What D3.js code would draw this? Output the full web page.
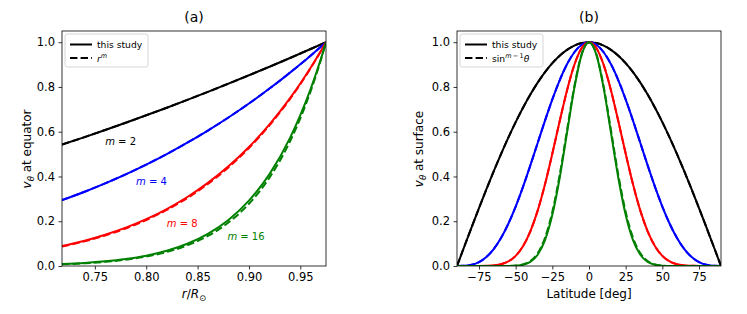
<!DOCTYPE html>
<html>
<head>
<meta charset="utf-8">
<script src="https://cdn.jsdelivr.net/npm/d3@7"></script>
<style>
  body { margin: 0; background: #fff; }
  svg { font-family: "DejaVu Sans", sans-serif; }
</style>
</head>
<body>
<svg width="747" height="314"></svg>
<script>
// panel (a): velocity at the equator vs radius
const radius = [0.718, 0.74, 0.76, 0.78, 0.80, 0.82, 0.84, 0.86, 0.88, 0.90, 0.92, 0.94, 0.95, 0.96, 0.97, 0.975];
const eqStudy2  = [0.5423, 0.5760, 0.6076, 0.6400, 0.6733, 0.7073, 0.7423, 0.7780, 0.8146, 0.8521, 0.8904, 0.9295, 0.9494, 0.9695, 0.9898, 1];
const eqStudy4  = [0.2941, 0.3318, 0.3692, 0.4096, 0.4533, 0.5003, 0.5510, 0.6053, 0.6636, 0.7261, 0.7928, 0.8640, 0.9013, 0.9399, 0.9796, 1];
const eqStudy8  = [0.0890, 0.1128, 0.1395, 0.1712, 0.2092, 0.2545, 0.3082, 0.3712, 0.4452, 0.5318, 0.6328, 0.7502, 0.8155, 0.8855, 0.9605, 1];
const eqStudy16 = [0.0085, 0.0135, 0.0207, 0.0311, 0.0462, 0.0681, 0.0994, 0.1437, 0.2058, 0.2920, 0.4105, 0.5727, 0.6740, 0.7907, 0.9250, 1];
const eqPower2  = [0.5423, 0.5760, 0.6076, 0.6400, 0.6733, 0.7073, 0.7423, 0.7780, 0.8146, 0.8521, 0.8904, 0.9295, 0.9494, 0.9695, 0.9898, 1];
const eqPower4  = [0.2941, 0.3318, 0.3692, 0.4096, 0.4533, 0.5003, 0.5510, 0.6053, 0.6636, 0.7261, 0.7928, 0.8640, 0.9013, 0.9399, 0.9796, 1];
const eqPower8  = [0.0865, 0.1101, 0.1363, 0.1678, 0.2055, 0.2503, 0.3036, 0.3664, 0.4404, 0.5272, 0.6285, 0.7465, 0.8124, 0.8834, 0.9597, 1];
const eqPower16 = [0.0075, 0.0121, 0.0186, 0.0282, 0.0422, 0.0627, 0.0922, 0.1343, 0.1940, 0.2780, 0.3950, 0.5573, 0.6600, 0.7804, 0.9210, 1];

// panel (b): velocity at the surface vs latitude
const latitude = [-90, -85, -80, -75, -70, -65, -60, -55, -50, -45, -40, -35, -30, -25, -20, -15, -10, -5, 0,
                  5, 10, 15, 20, 25, 30, 35, 40, 45, 50, 55, 60, 65, 70, 75, 80, 85, 90];
const surfStudy2  = [0, 0.0872, 0.1736, 0.2588, 0.3420, 0.4226, 0.5000, 0.5736, 0.6428, 0.7071, 0.7660, 0.8192, 0.8660, 0.9063, 0.9397, 0.9659, 0.9848, 0.9962, 1,
                     0.9962, 0.9848, 0.9659, 0.9397, 0.9063, 0.8660, 0.8192, 0.7660, 0.7071, 0.6428, 0.5736, 0.5000, 0.4226, 0.3420, 0.2588, 0.1736, 0.0872, 0];
const surfStudy4  = [0, 0.0007, 0.0052, 0.0173, 0.0400, 0.0755, 0.1250, 0.1887, 0.2656, 0.3536, 0.4495, 0.5497, 0.6495, 0.7444, 0.8298, 0.9012, 0.9551, 0.9886, 1,
                     0.9886, 0.9551, 0.9012, 0.8298, 0.7444, 0.6495, 0.5497, 0.4495, 0.3536, 0.2656, 0.1887, 0.1250, 0.0755, 0.0400, 0.0173, 0.0052, 0.0007, 0];
const surfStudy8  = [0, 0, 0, 0.0001, 0.0006, 0.0024, 0.0078, 0.0204, 0.0453, 0.0884, 0.1548, 0.2475, 0.3654, 0.5023, 0.6470, 0.7845, 0.8984, 0.9737, 1,
                     0.9737, 0.8984, 0.7845, 0.6470, 0.5023, 0.3654, 0.2475, 0.1548, 0.0884, 0.0453, 0.0204, 0.0078, 0.0024, 0.0006, 0.0001, 0, 0, 0];
const surfStudy16 = [0, 0, 0, 0, 0, 0, 0, 0.0002, 0.0013, 0.0055, 0.0184, 0.0502, 0.1156, 0.2286, 0.3933, 0.5945, 0.7948, 0.9444, 1,
                     0.9444, 0.7948, 0.5945, 0.3933, 0.2286, 0.1156, 0.0502, 0.0184, 0.0055, 0.0013, 0.0002, 0, 0, 0, 0, 0, 0, 0];
const surfSine2  = surfStudy2.slice();
const surfSine4  = surfStudy4.slice();
const surfSine8  = surfStudy8.slice();
const surfSine16 = [0, 0, 0, 0, 0, 0, 0.0001, 0.0004, 0.0020, 0.0072, 0.0220, 0.0570, 0.1260, 0.2420, 0.4070, 0.6060, 0.8020, 0.9470, 1,
                    0.9470, 0.8020, 0.6060, 0.4070, 0.2420, 0.1260, 0.0570, 0.0220, 0.0072, 0.0020, 0.0004, 0.0001, 0, 0, 0, 0, 0, 0];

const mValues = [2, 4, 8, 16];
const colors = ["#000000", "#0000ff", "#ff0000", "#008000"];
const rTicks = [0.75, 0.80, 0.85, 0.90, 0.95];
const latTicks = [-75, -50, -25, 0, 25, 50, 75];
const vTicks = [0, 0.2, 0.4, 0.6, 0.8, 1.0];

// label anchors for panel (a), in data units
const mLabelPos = [[0.760, 0.555], [0.790, 0.377], [0.820, 0.188], [0.879, 0.130]];

const svg = d3.select("svg");
const plotTop = 31, plotBottom = 266;

const y = d3.scaleLinear().domain([0, 1.05]).range([plotBottom, plotTop]);
const xa = d3.scaleLinear().domain([0.718, 0.975]).range([62, 326]);
const xb = d3.scaleLinear().domain([-90, 90]).range([457, 721]);

function drawAxes(x, xTickVals, xFmt) {
  const g = svg.append("g");
  g.append("g")
    .attr("transform", `translate(0,${plotBottom})`)
    .call(d3.axisBottom(x).tickValues(xTickVals).tickFormat(xFmt).tickSize(3.5).tickPadding(3.5))
    .call(s => s.select(".domain").remove());
  g.append("g")
    .attr("transform", `translate(${x.range()[0]},0)`)
    .call(d3.axisLeft(y).tickValues(vTicks).tickFormat(d3.format(".1f")).tickSize(3.5).tickPadding(3.5))
    .call(s => s.select(".domain").remove());
  g.selectAll(".tick text").attr("font-size", 11.5).attr("font-family", "DejaVu Sans").attr("fill", "#000");
  g.selectAll(".tick line").attr("stroke", "#000").attr("stroke-width", 0.8);
  return g;
}

function drawLines(x, xs, solids, dashes, clipId) {
  svg.append("clipPath").attr("id", clipId)
    .append("rect")
    .attr("x", x.range()[0]).attr("y", plotTop)
    .attr("width", x.range()[1] - x.range()[0]).attr("height", plotBottom - plotTop);
  const line = d3.line()
    .x((d, i) => x(xs[i]))
    .y(d => y(d))
    .curve(d3.curveMonotoneX);
  const g = svg.append("g").attr("clip-path", `url(#${clipId})`);
  mValues.forEach((m, k) => {
    g.append("path")
      .attr("d", line(dashes[k]))
      .attr("fill", "none")
      .attr("stroke", colors[k])
      .attr("stroke-width", 2)
      .attr("stroke-dasharray", "7.4,3.2");
    g.append("path")
      .attr("d", line(solids[k]))
      .attr("fill", "none")
      .attr("stroke", colors[k])
      .attr("stroke-width", 2);
  });
}

function drawFrame(x) {
  svg.append("rect")
    .attr("x", x.range()[0]).attr("y", plotTop)
    .attr("width", x.range()[1] - x.range()[0]).attr("height", plotBottom - plotTop)
    .attr("fill", "none")
    .attr("stroke", "#000")
    .attr("stroke-width", 0.8);
}

function drawLegend(x0, dashedLabel) {
  const g = svg.append("g").attr("transform", `translate(${x0},34)`);
  g.append("rect")
    .attr("width", 83).attr("height", 33)
    .attr("rx", 2.5)
    .attr("fill", "#fff").attr("fill-opacity", 0.8)
    .attr("stroke", "#cccccc").attr("stroke-width", 0.8);
  g.append("line").attr("x1", 5).attr("x2", 27).attr("y1", 10.5).attr("y2", 10.5)
    .attr("stroke", "#000").attr("stroke-width", 2);
  g.append("line").attr("x1", 5).attr("x2", 27).attr("y1", 24).attr("y2", 24)
    .attr("stroke", "#000").attr("stroke-width", 2).attr("stroke-dasharray", "7.4,3.2");
  g.append("text").attr("x", 32).attr("y", 14).attr("font-size", 9.2).text("this study");
  dashedLabel(g.append("text").attr("x", 32).attr("y", 27.5).attr("font-size", 9.2));
}

// ---- panel (a)
drawLines(xa, radius,
  [eqStudy2, eqStudy4, eqStudy8, eqStudy16],
  [eqPower2, eqPower4, eqPower8, eqPower16], "clipA");
drawAxes(xa, rTicks, d3.format(".2f"));
drawFrame(xa);
drawLegend(65, t => {
  t.append("tspan").attr("font-style", "italic").text("r");
  t.append("tspan").attr("font-style", "italic").attr("font-size", 6.5).attr("dy", -3.5).text("m");
});

mValues.forEach((m, k) => {
  const t = svg.append("text")
    .attr("x", xa(mLabelPos[k][0]))
    .attr("y", y(mLabelPos[k][1]))
    .attr("dy", "0.35em")
    .attr("font-size", 10)
    .attr("fill", colors[k]);
  t.append("tspan").attr("font-style", "italic").text("m");
  t.append("tspan").text(" = " + m);
});

svg.append("text").attr("x", 194).attr("y", 22).attr("text-anchor", "middle")
  .attr("font-size", 14).text("(a)");

const xlabA = svg.append("text").attr("x", 194).attr("y", 298).attr("text-anchor", "middle").attr("font-size", 12);
xlabA.append("tspan").attr("font-style", "italic").text("r");
xlabA.append("tspan").text("/");
xlabA.append("tspan").attr("font-style", "italic").text("R");
xlabA.append("tspan").attr("font-size", 8.5).attr("dy", 2.5).text("\u2299");

const ylabA = svg.append("text").attr("transform", "translate(31,149) rotate(-90)")
  .attr("text-anchor", "middle").attr("font-size", 12);
ylabA.append("tspan").attr("font-style", "italic").text("v");
ylabA.append("tspan").attr("font-style", "italic").attr("font-size", 8.5).attr("dy", 2.5).text("\u03b8");
ylabA.append("tspan").attr("dy", -2.5).text(" at equator");

// ---- panel (b)
drawLines(xb, latitude,
  [surfStudy2, surfStudy4, surfStudy8, surfStudy16],
  [surfSine2, surfSine4, surfSine8, surfSine16], "clipB");
drawAxes(xb, latTicks, d3.format("d"));
drawFrame(xb);
drawLegend(460, t => {
  t.append("tspan").text("sin");
  t.append("tspan").attr("font-size", 6.5).attr("dy", -3.5).attr("font-style", "italic").text("m");
  t.append("tspan").attr("font-size", 6.5).text("\u2009\u2212\u20091");
  t.append("tspan").attr("font-style", "italic").attr("dy", 3.5).text("\u03b8");
});

svg.append("text").attr("x", 589).attr("y", 22).attr("text-anchor", "middle")
  .attr("font-size", 14).text("(b)");

svg.append("text").attr("x", 589).attr("y", 298).attr("text-anchor", "middle")
  .attr("font-size", 12).text("Latitude [deg]");

const ylabB = svg.append("text").attr("transform", "translate(423,149) rotate(-90)")
  .attr("text-anchor", "middle").attr("font-size", 12);
ylabB.append("tspan").attr("font-style", "italic").text("v");
ylabB.append("tspan").attr("font-style", "italic").attr("font-size", 8.5).attr("dy", 2.5).text("\u03b8");
ylabB.append("tspan").attr("dy", -2.5).text(" at surface");
</script>
</body>
</html>
